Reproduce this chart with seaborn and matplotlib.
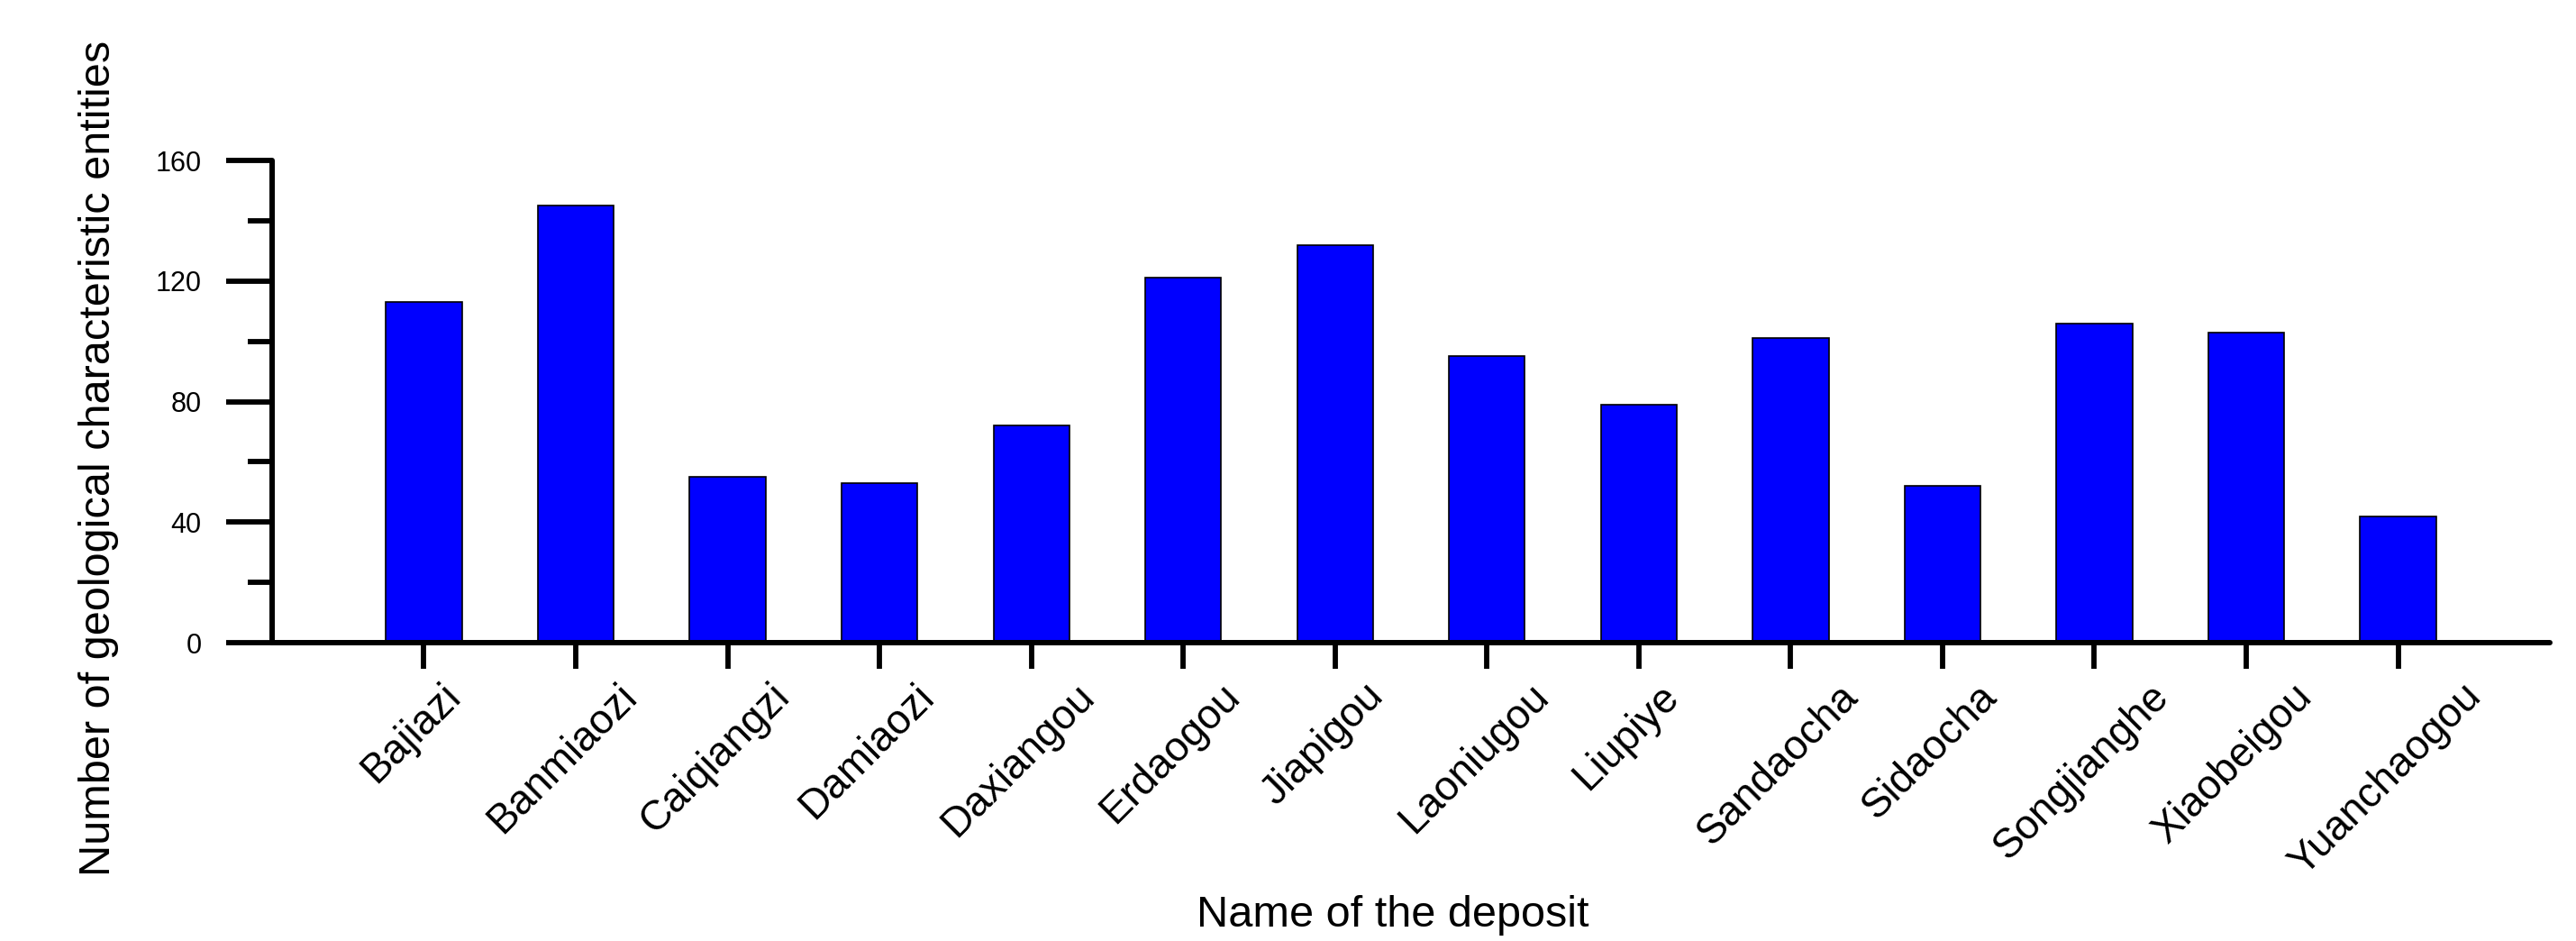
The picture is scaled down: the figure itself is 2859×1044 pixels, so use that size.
import matplotlib

matplotlib.use("Agg")
import matplotlib.pyplot as plt
import matplotlib.transforms as mtransforms
from matplotlib.ticker import MultipleLocator
import seaborn as sns

sns.set_theme(style="ticks")
plt.rcParams["font.family"] = ["Liberation Sans", "DejaVu Sans"]
for key in ["text.color", "axes.labelcolor", "xtick.color", "ytick.color",
            "axes.edgecolor"]:
    plt.rcParams[key] = "black"

BLUE = "#0000FF"

deposits = ["Bajiazi", "Banmiaozi", "Caiqiangzi", "Damiaozi", "Daxiangou",
            "Erdaogou", "Jiapigou", "Laoniugou", "Liupiye", "Sandaocha",
            "Sidaocha", "Songjianghe", "Xiaobeigou", "Yuanchaogou"]
entity_counts = [113, 145, 55, 53, 72, 121, 132, 95, 79, 101, 52, 106, 103, 42]
y_ticks = [0, 40, 80, 120, 160]

DPI = 100
fig = plt.figure(figsize=(28.59, 10.44), dpi=DPI)
ax = fig.add_axes([0.1056, 0.317, 0.8843, 0.5125])

sns.barplot(x=deposits, y=entity_counts, color=BLUE, saturation=1, width=0.5,
            edgecolor="black", linewidth=1.2, ax=ax)

ax.set_xlim(-1, 14)
ax.set_ylim(0, 160)
ax.set_yticks(y_ticks)
ax.yaxis.set_minor_locator(MultipleLocator(20))

for side in ["top", "right"]:
    ax.spines[side].set_visible(False)
for side in ["left", "bottom"]:
    ax.spines[side].set_linewidth(4.3)
    ax.spines[side].set_capstyle("round")

ax.tick_params(axis="y", which="major", length=37, width=4.2, pad=19.5,
               labelsize=22, direction="out")
ax.tick_params(axis="y", which="minor", length=19.5, width=4.2, direction="out")
ax.tick_params(axis="x", which="major", length=21, width=4.2, pad=6,
               labelsize=33, direction="out")

# rotated labels are centred (bbox) under their tick, nudged slightly left
offset = mtransforms.ScaledTranslation(-14 / DPI, 0, fig.dpi_scale_trans)
for lab in ax.get_xticklabels():
    lab.set_rotation(45)
    lab.set_ha("center")
    lab.set_va("top")
    lab.set_transform(lab.get_transform() + offset)

ax.set_xlabel("Name of the deposit", fontsize=35)
ax.set_ylabel("Number of geological characteristic entities", fontsize=35)
ax.xaxis.set_label_coords(0.492, -0.523)
ax.yaxis.set_label_coords(-0.0672, 0.383)

fig.savefig("out.png", dpi=DPI)
plt.close(fig)
